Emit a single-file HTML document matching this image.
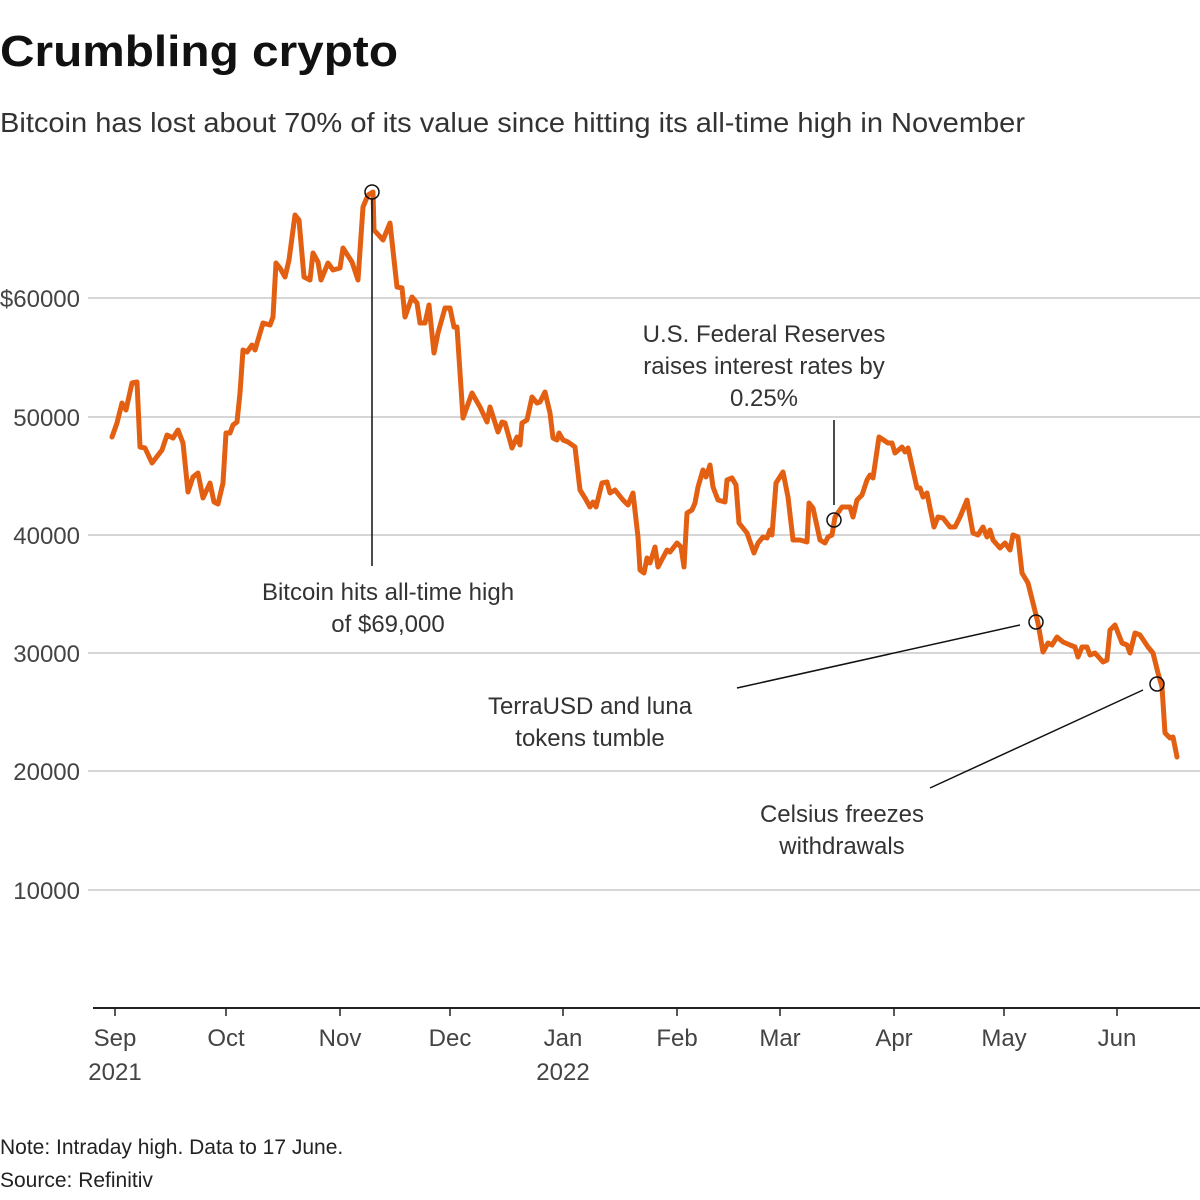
<!DOCTYPE html>
<html><head><meta charset="utf-8"><style>
html,body{margin:0;padding:0;background:#fff;}
svg{display:block;font-family:"Liberation Sans",sans-serif;}
</style></head><body>
<svg width="1200" height="1200" viewBox="0 0 1200 1200" xmlns="http://www.w3.org/2000/svg">
<text x="0" y="66" font-size="44" font-weight="bold" fill="#111" textLength="398" lengthAdjust="spacingAndGlyphs">Crumbling crypto</text>
<text x="0" y="132" font-size="28" fill="#333" textLength="1025" lengthAdjust="spacingAndGlyphs">Bitcoin has lost about 70% of its value since hitting its all-time high in November</text>
<g stroke="#c8c8c8" stroke-width="1.5">
<line x1="88" y1="298" x2="1200" y2="298"/>
<line x1="88" y1="417" x2="1200" y2="417"/>
<line x1="88" y1="535" x2="1200" y2="535"/>
<line x1="88" y1="653" x2="1200" y2="653"/>
<line x1="88" y1="771" x2="1200" y2="771"/>
<line x1="88" y1="890" x2="1200" y2="890"/>
</g>
<line x1="93" y1="1008" x2="1200" y2="1008" stroke="#222" stroke-width="2"/>
<g font-size="24" fill="#444" text-anchor="end">
<text x="80" y="307">$60000</text><text x="80" y="426">50000</text><text x="80" y="544">40000</text>
<text x="80" y="662">30000</text><text x="80" y="780">20000</text><text x="80" y="899">10000</text>
</g>
<g stroke="#222" stroke-width="1.5">
<line x1="115" y1="1008" x2="115" y2="1016"/><line x1="226" y1="1008" x2="226" y2="1016"/><line x1="340" y1="1008" x2="340" y2="1016"/><line x1="450" y1="1008" x2="450" y2="1016"/><line x1="563" y1="1008" x2="563" y2="1016"/><line x1="677" y1="1008" x2="677" y2="1016"/><line x1="780" y1="1008" x2="780" y2="1016"/><line x1="894" y1="1008" x2="894" y2="1016"/><line x1="1004" y1="1008" x2="1004" y2="1016"/><line x1="1117" y1="1008" x2="1117" y2="1016"/>
</g>
<g font-size="24" fill="#444" text-anchor="middle">
<text x="115" y="1046">Sep</text><text x="115" y="1080">2021</text>
<text x="226" y="1046">Oct</text><text x="340" y="1046">Nov</text><text x="450" y="1046">Dec</text>
<text x="563" y="1046">Jan</text><text x="563" y="1080">2022</text>
<text x="677" y="1046">Feb</text><text x="780" y="1046">Mar</text><text x="894" y="1046">Apr</text>
<text x="1004" y="1046">May</text><text x="1117" y="1046">Jun</text>
</g>
<polyline fill="none" stroke="#e35f12" stroke-width="5" stroke-linejoin="round" stroke-linecap="round" points="112,437 117,423 122,403 126,410 132,383 137,382 140,447 145,448 152,463 162,450 167,435 173,438 178,430 183,443 188,492 193,477 198,473 203,498 210,483 214,502 218,504 223,483 226,433 230,433 233,425 237,422 240,393 243,350 247,352 252,345 255,350 263,323 270,325 273,317 276,263 280,268 285,277 289,260 295,215 299,220 304,277 310,280 313,253 318,262 321,280 328,263 333,270 340,268 343,248 352,262 358,280 363,207 368,195 373,192 374,230 383,240 390,223 397,287 402,288 405,317 412,297 417,303 420,323 425,323 429,305 434,353 438,333 445,308 450,308 454,327 457,327 463,418 472,393 480,407 487,422 490,407 498,432 502,422 505,423 512,448 517,437 520,445 522,423 527,420 532,397 537,403 540,402 545,392 550,413 553,438 557,440 559,433 563,440 568,442 575,447 580,490 585,498 590,507 593,502 596,507 602,483 607,482 610,493 615,490 623,500 628,505 633,493 638,537 640,570 644,573 647,558 650,563 655,547 658,567 667,550 670,552 677,543 681,547 684,567 687,513 692,510 695,503 698,487 703,470 706,477 710,465 713,487 718,500 725,502 727,480 732,478 736,485 739,523 747,533 754,553 758,543 763,537 767,538 770,530 772,535 776,483 783,472 788,497 793,540 800,540 807,542 809,503 813,508 820,540 825,543 828,537 832,535 835,517 842,507 850,507 853,517 857,500 862,495 867,480 870,475 873,478 879,437 888,443 892,443 895,453 902,447 905,452 908,448 917,488 920,488 923,497 927,493 930,508 934,527 938,517 943,518 950,527 955,527 960,517 967,500 973,533 978,535 983,527 987,537 990,530 993,540 1000,548 1005,543 1010,550 1013,535 1018,537 1022,573 1028,583 1033,603 1038,623 1043,652 1048,643 1052,645 1057,637 1063,642 1070,645 1075,647 1078,657 1082,647 1087,647 1090,655 1095,653 1103,662 1107,660 1110,630 1115,625 1122,643 1127,645 1130,653 1135,633 1140,635 1148,647 1153,653 1158,673 1162,687 1165,733 1170,738 1173,737 1177,757"/>
<g stroke="#111" stroke-width="1.5" fill="none">
<line x1="372" y1="199" x2="372" y2="566"/>
<line x1="834" y1="420" x2="834" y2="505"/>
<line x1="737" y1="688" x2="1020" y2="625"/>
<line x1="930" y1="788" x2="1143" y2="690"/>
<circle cx="372" cy="192" r="7"/><circle cx="834" cy="520" r="7"/><circle cx="1036" cy="622" r="7"/><circle cx="1157" cy="684" r="7"/>
</g>
<g font-size="24" fill="#333" text-anchor="middle">
<text x="388" y="600">Bitcoin hits all-time high</text><text x="388" y="632">of $69,000</text>
<text x="764" y="342">U.S. Federal Reserves</text><text x="764" y="374">raises interest rates by</text><text x="764" y="406">0.25%</text>
<text x="590" y="714">TerraUSD and luna</text><text x="590" y="746">tokens tumble</text>
<text x="842" y="822">Celsius freezes</text><text x="842" y="854">withdrawals</text>
</g>
<text x="0" y="1154" font-size="21" fill="#222">Note: Intraday high. Data to 17 June.</text>
<text x="0" y="1187" font-size="21" fill="#222">Source: Refinitiv</text>
</svg>
</body></html>
